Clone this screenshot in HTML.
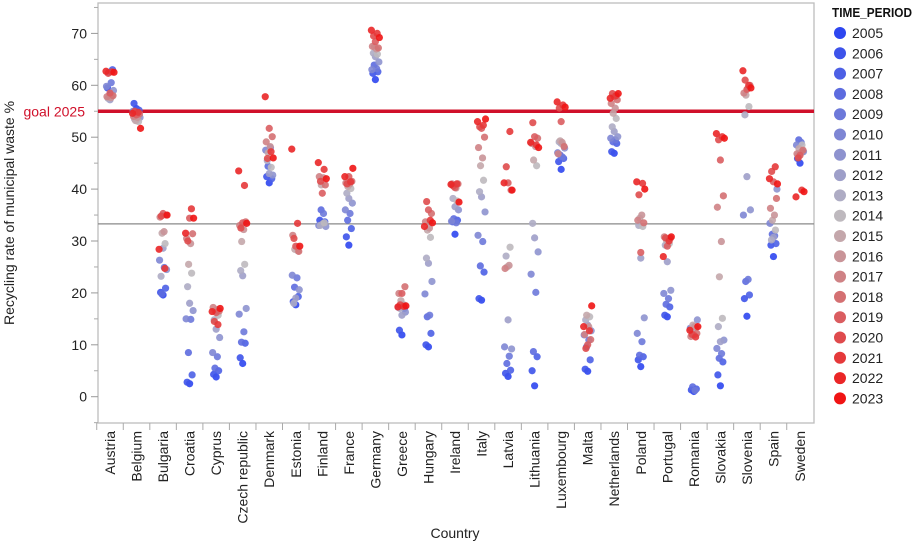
<!DOCTYPE html>
<html><head><meta charset="utf-8"><style>
html,body{margin:0;padding:0;background:#fff;}
svg{display:block;font-family:"Liberation Sans",sans-serif;}
</style></head><body>
<svg id="chart" width="913" height="544" viewBox="0 0 913 544" xmlns="http://www.w3.org/2000/svg">
<rect x="98" y="3" width="716" height="420" fill="#fff" stroke="#bdbdbd" stroke-width="1.3"/>
<g id="yaxis"></g>
<g id="xaxis"></g>
<g id="refs"></g>
<g id="points"></g>
<g id="legend"></g>
<text x="14" y="213" transform="rotate(-90 14 213)" text-anchor="middle" font-size="14" fill="#222">Recycling rate of municipal waste %</text>
<text x="455" y="538" text-anchor="middle" font-size="14" fill="#222">Country</text>
</svg>
<script>
const countries=["Austria","Belgium","Bulgaria","Croatia","Cyprus","Czech republic","Denmark","Estonia","Finland","France","Germany","Greece","Hungary","Ireland","Italy","Latvia","Lithuania","Luxembourg","Malta","Netherlands","Poland","Portugal","Romania","Slovakia","Slovenia","Spain","Sweden"];
const years=[2005,2006,2007,2008,2009,2010,2011,2012,2013,2014,2015,2016,2017,2018,2019,2020,2021,2022,2023];
const yTicks=[0,10,20,30,40,50,60,70];
const goalValue=55;
const avgValue=33.3;
const vAustria=[58.2,59.5,63.0,62.5,60.5,59.8,59.0,57.2,57.5,58.0,57.7,57.6,57.8,58.0,58.5,62.3,62.6,62.7,62.5];
const vBelgium=[55.5,56.5,55.2,54.0,53.5,55.0,53.8,53.2,53.5,53.0,53.2,53.8,54.0,54.5,54.3,55.0,54.8,54.6,51.7];
const vBulgaria=[19.6,20.1,20.9,19.8,24.9,26.3,24.5,28.6,23.2,29.5,31.5,31.8,34.6,35.0,35.3,34.8,24.7,28.4,35.0];
const vCroatia=[2.5,2.8,4.2,8.5,14.9,15.0,16.6,18.0,21.2,23.8,25.5,29.5,30.5,31.4,34.4,30.0,36.2,31.5,34.4];
const vCyprus=[3.8,4.3,5.0,5.5,7.7,8.5,11.4,13.0,14.8,15.7,16.5,16.8,17.2,16.5,16.2,14.5,13.9,16.4,17.0];
const vCzech=[6.4,7.5,10.3,10.5,12.5,15.9,17.0,23.3,24.3,25.5,29.9,32.2,33.0,33.7,33.5,32.5,40.7,43.5,33.4];
const vDenmark=[41.2,42.4,42.0,44.4,48.0,47.5,42.7,43.0,45.5,44.2,47.0,48.2,49.1,50.1,51.7,45.9,47.2,57.8,46.0];
const vEstonia=[17.7,18.3,19.3,21.1,22.9,23.4,20.6,19.0,18.0,28.1,28.4,28.9,31.1,28.0,29.0,30.5,33.4,47.7,29.0];
const vFinland=[33.5,34.0,33.7,36.0,35.3,33.0,32.8,33.3,33.0,33.5,40.8,42.2,42.4,40.8,39.2,41.5,43.8,45.1,42.0];
const vFrance=[29.2,30.8,32.4,34.0,35.3,36.0,37.3,38.2,39.2,40.1,40.5,41.0,41.2,41.5,42.4,41.0,41.4,42.4,44.0];
const vGermany=[61.1,62.3,62.6,63.9,63.2,63.0,64.5,65.5,66.2,66.0,67.4,67.0,67.5,67.2,68.4,69.5,70.0,70.6,69.2];
const vGreece=[11.9,12.8,17.0,17.5,17.7,17.2,16.3,15.7,17.0,17.7,18.5,17.5,19.9,21.2,19.9,17.7,17.4,17.3,17.5];
const vHungary=[9.6,10.0,12.2,15.4,15.7,19.8,22.2,25.7,26.7,30.7,32.1,32.5,33.7,35.3,36.0,37.6,34.0,32.8,33.5];
const vIreland=[31.3,33.7,34.0,34.3,33.5,33.8,36.0,36.6,38.2,37.7,40.5,40.2,41.0,41.0,40.3,40.6,41.0,40.9,37.5];
const vItaly=[18.6,18.9,24.0,25.2,29.9,31.1,35.6,38.5,39.5,41.7,44.5,46.0,48.0,50.0,51.7,52.0,52.3,53.0,53.5];
const vLatvia=[3.9,4.5,5.1,6.4,7.8,9.6,9.2,14.8,27.1,28.8,25.0,25.3,24.7,39.8,41.2,44.3,51.1,41.2,39.8];
const vLithuania=[2.1,5.0,7.7,8.7,20.1,23.6,27.9,30.6,33.4,44.5,45.6,48.2,48.8,49.8,50.1,52.8,48.5,49.0,48.0];
const vLuxembourg=[43.8,45.3,45.9,46.6,46.2,47.0,47.9,48.8,49.1,48.5,49.3,49.0,46.8,48.2,53.0,55.6,56.2,56.8,55.8];
const vMalta=[4.9,5.3,7.1,9.6,10.9,11.9,12.7,13.8,14.8,15.4,15.7,13.5,12.0,11.0,10.0,9.3,12.7,13.5,17.5];
const vNetherlands=[46.9,47.2,48.8,49.1,49.5,49.8,50.1,51.1,52.0,53.6,54.6,55.6,56.5,57.2,57.8,58.4,58.0,57.5,58.4];
const vPoland=[5.8,7.1,7.7,8.0,10.6,12.2,15.2,26.7,33.0,32.8,34.4,35.0,34.0,33.5,27.8,38.9,41.1,41.4,40.0];
const vPortugal=[15.4,15.7,17.3,17.8,18.9,19.9,20.5,26.0,29.2,29.5,30.2,30.5,30.8,30.5,29.0,30.6,30.0,27.0,30.8];
const vRomania=[1.0,1.3,1.5,1.9,1.2,13.2,14.8,13.5,13.0,13.3,13.8,13.5,11.6,12.2,11.9,12.0,11.5,12.8,13.5];
const vSlovakia=[2.1,4.2,6.7,7.4,8.3,9.3,10.9,10.6,13.5,15.1,23.1,29.9,36.5,38.7,45.6,49.5,50.1,50.7,49.8];
const vSlovenia=[15.5,18.9,19.6,22.2,22.6,35.0,36.0,42.4,54.3,55.9,58.1,59.4,58.5,60.0,59.2,61.0,60.0,62.8,59.5];
const vSpain=[27.0,29.2,29.5,31.3,31.0,33.4,40.0,30.7,30.2,32.1,34.0,35.0,36.3,38.2,41.4,43.4,44.3,42.0,41.0];
const vSweden=[45.0,45.9,47.2,49.5,49.0,48.5,47.2,47.0,46.5,48.5,47.8,47.0,46.8,47.5,46.5,46.0,39.8,38.5,39.5];
const series=[vAustria,vBelgium,vBulgaria,vCroatia,vCyprus,vCzech,vDenmark,vEstonia,vFinland,vFrance,vGermany,vGreece,vHungary,vIreland,vItaly,vLatvia,vLithuania,vLuxembourg,vMalta,vNetherlands,vPoland,vPortugal,vRomania,vSlovakia,vSlovenia,vSpain,vSweden];

const NS="http://www.w3.org/2000/svg";
const X0=98,X1=814,Y0=396.7,PX=5.19;
function y(v){return Y0-v*PX;}
const bw=(800-110)/(countries.length-1);
function x(i){return 110+bw*i;}
function mk(tag,attrs,parent){const e=document.createElementNS(NS,tag);for(const k in attrs)e.setAttribute(k,attrs[k]);parent.appendChild(e);return e;}
function col(t){
  const a=[45,70,240],m=[190,185,190],b=[240,20,20];
  let c;if(t<0.5){const u=t/0.5;c=a.map((v,i)=>Math.round(v+(m[i]-v)*u));}else{const u=(t-0.5)/0.5;c=m.map((v,i)=>Math.round(v+(b[i]-v)*u));}
  return `rgb(${c[0]},${c[1]},${c[2]})`;
}
const ya=document.getElementById('yaxis');
yTicks.forEach(t=>{
  const ln=mk('line',{x1:91,x2:98,y1:y(t),y2:y(t),stroke:'#999'},ya);
  
  
  const tx=mk('text',{x:87,y:y(t)+5,'text-anchor':'end','font-size':14,fill:'#222'},ya);
  tx.textContent=t;
  
  
  const mn=mk('line',{x1:94,x2:98,y1:y(t+5),y2:y(t+5),stroke:'#aaa'},ya);
  
  
});
const mn0=mk('line',{x1:94,x2:98,y1:y(-5),y2:y(-5),stroke:'#aaa'},ya);


const xa=document.getElementById('xaxis');
countries.forEach((c,i)=>{
  const tk=mk('line',{x1:x(i)-bw/2,x2:x(i)-bw/2,y1:423,y2:430,stroke:'#aaa'},xa);
  
  
  const tx=mk('text',{x:0,y:0,'text-anchor':'end','font-size':14,fill:'#222',transform:`translate(${x(i)+5},431) rotate(-90)`},xa);
  tx.textContent=c;
  
  
});
const rf=document.getElementById('refs');
const g=mk('line',{x1:X0,x2:X1,y1:y(goalValue),y2:y(goalValue),stroke:'#d0102a','stroke-width':3.5},rf);


const gt=mk('text',{x:85,y:y(goalValue)+5,'text-anchor':'end','font-size':14,fill:'#d0102a'},rf);
gt.textContent='goal 2025';


const av=mk('line',{x1:X0,x2:X1,y1:y(avgValue),y2:y(avgValue),stroke:'#8a8a8a','stroke-width':1.2},rf);


const pg=document.getElementById('points');
const jit=[0,-2.5,2.5,-1.2,1.2,-3.5,3.5,0,-2,2,-1,1,-3,3,0,-1.8,1.8,-4,4];
series.forEach((vals,i)=>{
  vals.forEach((v,k)=>{
    const c=mk('circle',{cx:x(i)+jit[k],cy:y(v),r:3.6,fill:col(k/(years.length-1)),'fill-opacity':0.9},pg);
    
    
  });
});
const lg=document.getElementById('legend');
const lt=mk('text',{x:832,y:17,'font-size':12.5,'font-weight':'bold',fill:'#111',textLength:80,lengthAdjust:'spacingAndGlyphs'},lg);
lt.textContent='TIME_PERIOD';


years.forEach((yr,k)=>{
  const yy=33+k*20.3;
  const c=mk('circle',{cx:840,cy:yy,r:6,fill:col(k/(years.length-1))},lg);
  
  
  const t=mk('text',{x:852,y:yy+5,'font-size':14,fill:'#222'},lg);
  t.textContent=yr;
  
  
});
</script>
</body></html>
